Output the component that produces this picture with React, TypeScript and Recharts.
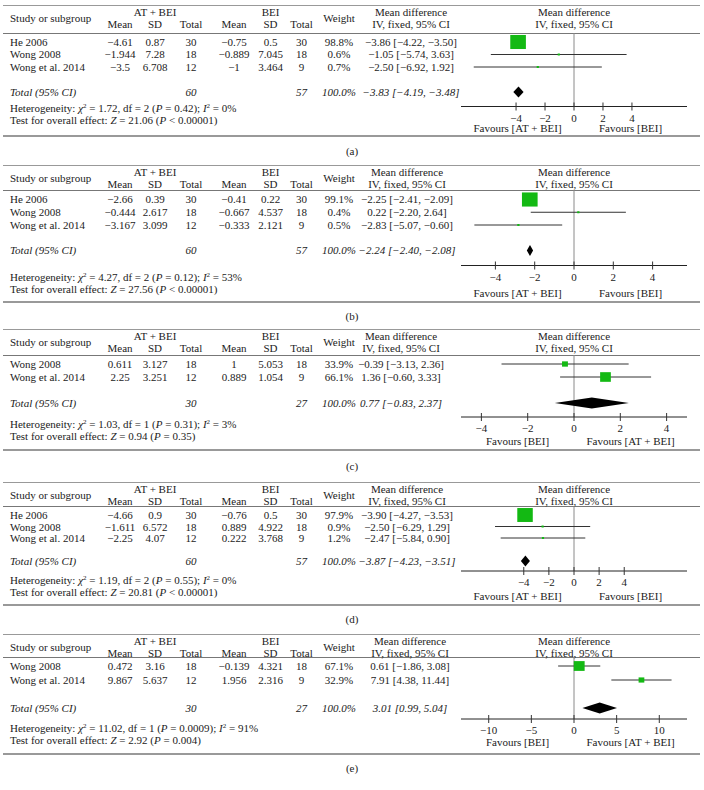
import React from "react";
import { ScatterChart, Scatter, XAxis, YAxis, ErrorBar, ReferenceLine } from "recharts";

// [study, AT+BEI mean, SD, total, BEI mean, SD, total, weight %, MD, lower, upper]
type Row = [string, number, number, number, number, number, number, number, number, number, number];

const rowsA: Row[] = [
  ["He 2006", -4.61, 0.87, 30, -0.75, 0.5, 30, 98.8, -3.86, -4.22, -3.5],
  ["Wong 2008", -1.944, 7.28, 18, -0.889, 7.045, 18, 0.6, -1.05, -5.74, 3.63],
  ["Wong et al. 2014", -3.5, 6.708, 12, -1, 3.464, 9, 0.7, -2.5, -6.92, 1.92],
];
const totalA = [60, 57, -3.83, -4.19, -3.48];
const statsA = ["1.72", "2", "= 0.42", "0%", "21.06", "< 0.00001"];

const rowsB: Row[] = [
  ["He 2006", -2.66, 0.39, 30, -0.41, 0.22, 30, 99.1, -2.25, -2.41, -2.09],
  ["Wong 2008", -0.444, 2.617, 18, -0.667, 4.537, 18, 0.4, 0.22, -2.2, 2.64],
  ["Wong et al. 2014", -3.167, 3.099, 12, -0.333, 2.121, 9, 0.5, -2.83, -5.07, -0.6],
];
const totalB = [60, 57, -2.24, -2.4, -2.08];
const statsB = ["4.27", "2", "= 0.12", "53%", "27.56", "< 0.00001"];

const rowsC: Row[] = [
  ["Wong 2008", 0.611, 3.127, 18, 1, 5.053, 18, 33.9, -0.39, -3.13, 2.36],
  ["Wong et al. 2014", 2.25, 3.251, 12, 0.889, 1.054, 9, 66.1, 1.36, -0.6, 3.33],
];
const totalC = [30, 27, 0.77, -0.83, 2.37];
const statsC = ["1.03", "1", "= 0.31", "3%", "0.94", "= 0.35"];

const rowsD: Row[] = [
  ["He 2006", -4.66, 0.9, 30, -0.76, 0.5, 30, 97.9, -3.9, -4.27, -3.53],
  ["Wong 2008", -1.611, 6.572, 18, 0.889, 4.922, 18, 0.9, -2.5, -6.29, 1.29],
  ["Wong et al. 2014", -2.25, 4.07, 12, 0.222, 3.768, 9, 1.2, -2.47, -5.84, 0.9],
];
const totalD = [60, 57, -3.87, -4.23, -3.51];
const statsD = ["1.19", "2", "= 0.55", "0%", "20.81", "< 0.00001"];

const rowsE: Row[] = [
  ["Wong 2008", 0.472, 3.16, 18, -0.139, 4.321, 18, 67.1, 0.61, -1.86, 3.08],
  ["Wong et al. 2014", 9.867, 5.637, 12, 1.956, 2.316, 9, 32.9, 7.91, 4.38, 11.44],
];
const totalE = [30, 27, 3.01, 0.99, 5.04];
const statsE = ["11.02", "1", "= 0.0009", "91%", "2.92", "= 0.004"];

const ticksSmall = [-4, -2, 0, 2, 4];
const ticksWide = [-10, -5, 0, 5, 10];
const favoursAT = ["Favours [AT + BEI]", "Favours [BEI]"];
const favoursBEI = ["Favours [BEI]", "Favours [AT + BEI]"];
const panelLabels = ["(a)", "(b)", "(c)", "(d)", "(e)"];

// pixel layout of each panel
const layouts = [
  { top: 5, head: 32.5, r0: 41.5, p: 12.5, axis: 106, het: 108, test: 120, fav: 128, bottom: 135, label: 151, md: 411, D: 7.8 },
  { top: 165, head: 189.5, r0: 199, p: 12.75, axis: 265, het: 277, test: 289, fav: 293, bottom: 301, label: 316, md: 407, D: 5.75 },
  { top: 329, head: 355, r0: 364, p: 13, axis: 417, het: 424, test: 436, fav: 441, bottom: 449, label: 466, md: 401, D: 4.88 },
  { top: 482, head: 506, r0: 515, p: 11.5, axis: 571, het: 580, test: 592, fav: 596, bottom: 604, label: 619, md: 407, D: 9 },
  { top: 634, head: 657, r0: 666, p: 14, axis: 719, het: 728, test: 740, fav: 742, bottom: 753, label: 768, md: 410, D: 13.25 },
];

const COLS = [120, 155, 191, 234, 270.5, 301.5];
const WEIGHT_X = 339;
const PLOT_X = 574;
const FONT = '"Liberation Serif", "DejaVu Serif", serif';
const GREEN = "#13b913";

const fmt = (v: number) => String(v).replace("-", "\u2212");
const fix2 = (v: number) => v.toFixed(2).replace("-", "\u2212");
const ci = (m: number, l: number, u: number) => `${fix2(m)} [${fix2(l)}, ${fix2(u)}]`;

const T = ({ x, y, children, align = "center", italic = false }: any) => (
  <div
    style={{
      position: "absolute",
      left: x,
      top: y - 7,
      lineHeight: "14px",
      fontSize: 11,
      whiteSpace: "nowrap",
      fontStyle: italic ? "italic" : "normal",
      transform: align === "center" ? "translateX(-50%)" : undefined,
    }}
  >
    {children}
  </div>
);

const Sup = ({ children }: any) => (
  <span style={{ fontSize: 7, position: "relative", top: -4 }}>{children}</span>
);

const Rule = ({ y, w = 1, color = "#999" }: any) => (
  <div style={{ position: "absolute", left: 3, width: 697, top: y, borderTop: `${w}px solid ${color}` }} />
);

const AxisTick = (props: any) => {
  const { x, y, payload } = props;
  return (
    <g>
      <line x1={x} x2={x} y1={y - 4} y2={y + 4} stroke="#333" />
      <text x={x} y={y + 15} textAnchor="middle" fontSize={11} fontFamily={FONT} fill="#222">
        {fmt(payload.value)}
      </text>
    </g>
  );
};

const StudyBox = (props: any) => {
  const side = Math.max(0.15 * props.payload.w + 0.8, 2.2);
  return <rect x={props.cx - side / 2} y={props.cy - side * 0.45} width={side} height={side * 0.9} fill={GREEN} />;
};

const Diamond = (props: any) => {
  const pts = props.points || [];
  if (pts.length < 3) return <g />;
  const [l, m, r] = pts;
  const h = 5.5;
  return <path d={`M${l.x},${l.y} L${m.x},${m.y - h} L${r.x},${r.y} L${m.x},${m.y + h} Z`} fill="#000" />;
};

const Panel = ({ rows, total, stats, ticks, favours, label, lay }: any) => {
  const n = rows.length;
  const totalRow = n + 1;
  const rowY = (i: number) => lay.r0 + i * lay.p;
  const plotH = lay.axis - lay.head;
  const yMin = -(lay.r0 - lay.head) / lay.p;
  const yMax = yMin + plotH / lay.p;

  const studyData = rows.map((r: Row, i: number) => ({ x: r[8], y: i, err: [r[8] - r[9], r[10] - r[8]], w: r[7] }));
  const totalData = [total[3], total[2], total[4]].map((v: number) => ({ x: v, y: totalRow }));

  return (
    <>
      <Rule y={lay.top} />
      <Rule y={lay.head} color="#777" />
      <Rule y={lay.bottom} w={2} />

      <T x={10} y={lay.top + 13} align="left">Study or subgroup</T>
      <T x={COLS[1]} y={lay.top + 7}>AT + BEI</T>
      <T x={COLS[4]} y={lay.top + 7}>BEI</T>
      {["Mean", "SD", "Total", "Mean", "SD", "Total"].map((h, i) => (
        <T key={i} x={COLS[i]} y={lay.top + 19}>{h}</T>
      ))}
      <T x={WEIGHT_X} y={lay.top + 13}>Weight</T>
      <T x={lay.md} y={lay.top + 7}>Mean difference</T>
      <T x={lay.md} y={lay.top + 19}>IV, fixed, 95% CI</T>
      <T x={PLOT_X} y={lay.top + 7}>Mean difference</T>
      <T x={PLOT_X} y={lay.top + 19}>IV, fixed, 95% CI</T>

      {rows.map((r: Row, i: number) => (
        <React.Fragment key={r[0]}>
          <T x={10} y={rowY(i)} align="left">{r[0]}</T>
          {[r[1], r[2], r[3], r[4], r[5], r[6]].map((v, j) => (
            <T key={j} x={COLS[j]} y={rowY(i)}>{fmt(v)}</T>
          ))}
          <T x={WEIGHT_X} y={rowY(i)}>{r[7].toFixed(1)}%</T>
          <T x={lay.md} y={rowY(i)}>{ci(r[8], r[9], r[10])}</T>
        </React.Fragment>
      ))}

      <T x={10} y={rowY(totalRow)} align="left" italic>Total (95% CI)</T>
      <T x={COLS[2]} y={rowY(totalRow)} italic>{total[0]}</T>
      <T x={COLS[5]} y={rowY(totalRow)} italic>{total[1]}</T>
      <T x={WEIGHT_X} y={rowY(totalRow)} italic>100.0%</T>
      <T x={lay.md} y={rowY(totalRow)} italic>{ci(total[2], total[3], total[4])}</T>

      <T x={10} y={lay.het} align="left">
        Heterogeneity: <i>χ</i><Sup>2</Sup> = {stats[0]}, df = {stats[1]} (<i>P</i> {stats[2]}); <i>I</i><Sup>2</Sup> = {stats[3]}
      </T>
      <T x={10} y={lay.test} align="left">
        Test for overall effect: <i>Z</i> = {stats[4]} (<i>P</i> {stats[5]})
      </T>

      <T x={517.5} y={lay.fav}>{favours[0]}</T>
      <T x={630.5} y={lay.fav}>{favours[1]}</T>
      <T x={352} y={lay.label}>{label}</T>

      <div style={{ position: "absolute", left: 0, top: lay.head }}>
        <ScatterChart width={704} height={plotH + 16} margin={{ top: 0, right: 17, bottom: 0, left: 461 }}>
          <XAxis
            type="number"
            dataKey="x"
            domain={[-lay.D, lay.D]}
            ticks={ticks}
            interval={0}
            allowDataOverflow
            height={16}
            tickLine={false}
            tickSize={0}
            tickMargin={0}
            axisLine={{ stroke: "#222" }}
            tick={(p: any) => <AxisTick {...p} />}
          />
          <YAxis type="number" dataKey="y" domain={[yMin, yMax]} reversed allowDataOverflow hide />
          <ReferenceLine x={0} stroke="#8a8a8a" />
          <Scatter data={studyData} shape={StudyBox} isAnimationActive={false}>
            <ErrorBar dataKey="err" direction="x" width={0} stroke="#333" strokeWidth={1} isAnimationActive={false} />
          </Scatter>
          <Scatter data={totalData} shape={() => <g />} line={Diamond} lineType="joint" isAnimationActive={false} />
        </ScatterChart>
      </div>
    </>
  );
}

export default function App() {
  const panels = [
    { rows: rowsA, total: totalA, stats: statsA, ticks: ticksSmall, favours: favoursAT },
    { rows: rowsB, total: totalB, stats: statsB, ticks: ticksSmall, favours: favoursAT },
    { rows: rowsC, total: totalC, stats: statsC, ticks: ticksSmall, favours: favoursBEI },
    { rows: rowsD, total: totalD, stats: statsD, ticks: ticksSmall, favours: favoursAT },
    { rows: rowsE, total: totalE, stats: statsE, ticks: ticksWide, favours: favoursBEI },
  ];
  return (
    <div
      style={{
        position: "absolute",
        left: 0,
        top: 0,
        width: 704,
        height: 790,
        background: "#fff",
        color: "#222",
        fontFamily: FONT,
        overflow: "hidden",
      }}
    >
      {panels.map((p, i) => (
        <Panel key={i} {...p} label={panelLabels[i]} lay={layouts[i]} />
      ))}
    </div>
  );
}
